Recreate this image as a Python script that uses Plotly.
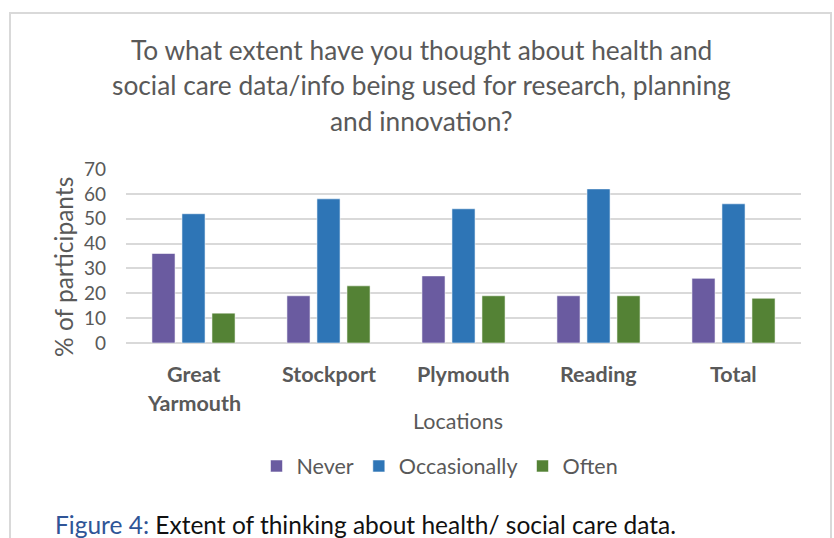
import plotly.graph_objects as go

categories = ["Great Yarmouth", "Stockport", "Plymouth", "Reading", "Total"]
tick_labels = [["Great", "Yarmouth"], ["Stockport"], ["Plymouth"], ["Reading"], ["Total"]]
never = [36, 19, 27, 19, 26]
occasionally = [52, 58, 54, 62, 56]
often = [12, 23, 19, 19, 18]
series_names = ["Never", "Occasionally", "Often"]
series_colors = ["#6A5BA0", "#2E75B6", "#548235"]

title_lines = [
    "To what extent have you thought about health and",
    "social care data/info being used for research, planning",
    "and innovation?",
]
y_title = "% of participants"
x_title = "Locations"
caption_label = "Figure 4:"
caption_text = " Extent of thinking about health/ social care data."

W, H = 834, 538
L, R, T, B = 126, 801, 169, 343
FONT = "Lato"
GREY = "#595959"


def px_x(x):
    return (x - L) / (R - L)


def px_y(y):
    return (B - y) / (B - T)


fig = go.Figure()
for name, vals, col in zip(series_names, [never, occasionally, often], series_colors):
    fig.add_trace(go.Bar(
        x=categories, y=vals, name=name,
        marker=dict(color=col, line=dict(color="rgba(255,255,255,0.55)", width=1)),
    ))

annotations = []
title_y = [50, 85, 121]
for line, yy in zip(title_lines, title_y):
    annotations.append(dict(
        text=line, x=px_x(421), y=px_y(yy), xref="paper", yref="paper",
        xanchor="center", yanchor="middle", showarrow=False,
        font=dict(family=FONT, size=26.3, color=GREY),
    ))

annotations.append(dict(
    text=y_title, x=px_x(63), y=px_y(267), xref="paper", yref="paper",
    xanchor="center", yanchor="middle", showarrow=False, textangle=-90,
    font=dict(family=FONT, size=24.5, color=GREY),
))

for cat, lines in zip(categories, tick_labels):
    for i, ln in enumerate(lines):
        annotations.append(dict(
            text="<b>" + ln + "</b>", x=cat, y=px_y(374 + 29 * i), xref="x", yref="paper",
            xanchor="center", yanchor="middle", showarrow=False,
            font=dict(family=FONT, size=21.5, color=GREY),
        ))

annotations.append(dict(
    text=x_title, x=px_x(458), y=px_y(421), xref="paper", yref="paper",
    xanchor="center", yanchor="middle", showarrow=False,
    font=dict(family=FONT, size=21.5, color=GREY),
))

annotations.append(dict(
    text="<span style='color:#2F5597'>" + caption_label + "</span>" + caption_text,
    x=px_x(53), y=px_y(524), xref="paper", yref="paper",
    xanchor="left", yanchor="middle", showarrow=False,
    font=dict(family=FONT, size=24.5, color="#111111"),
))

shapes = [dict(
    type="rect", xref="paper", yref="paper",
    x0=px_x(10), x1=px_x(831), y0=px_y(13), y1=px_y(560),
    line=dict(color="#D9D9D9", width=2), fillcolor="rgba(0,0,0,0)", layer="below",
)]

fig.update_layout(
    width=W, height=H,
    margin=dict(l=L, r=W - R, t=T, b=H - B, autoexpand=False),
    paper_bgcolor="white", plot_bgcolor="white",
    barmode="group", bargap=0.333, bargroupgap=0.23,
    showlegend=True,
    legend=dict(
        orientation="h", x=px_x(440), y=px_y(466), xanchor="center", yanchor="middle",
        font=dict(family=FONT, size=21.5, color=GREY), itemwidth=30,
        bgcolor="rgba(0,0,0,0)",
    ),
    annotations=annotations,
    shapes=shapes,
)
fig.update_xaxes(showticklabels=False, showgrid=False, showline=False, zeroline=False)
fig.update_yaxes(
    range=[0, 70], dtick=10, showgrid=True, gridcolor="#D9D9D9", gridwidth=2,
    zeroline=True, zerolinecolor="#D9D9D9", zerolinewidth=2,
    tickfont=dict(family=FONT, size=19, color=GREY), ticklabelstandoff=19,
    showline=False,
)

fig.write_html(
    "out.html",
    config={"displayModeBar": False},
    post_script="document.body.style.margin='0';document.body.style.overflow='hidden';",
)
